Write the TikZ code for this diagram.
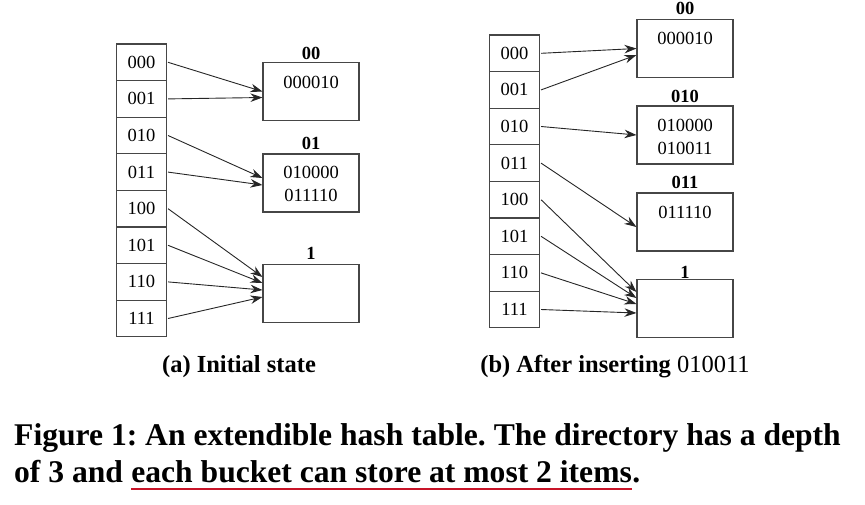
\documentclass[tikz,border=0pt]{standalone}
\usepackage{fontspec}
\setmainfont{Liberation Serif}
\usetikzlibrary{arrows.meta}
\definecolor{ulred}{RGB}{200,20,40}
\definecolor{boxgray}{RGB}{70,70,70}
\frenchspacing
\begin{document}
\begin{tikzpicture}[x=1pt,y=-1pt,
  cell/.style={draw=boxgray, line width=1.1pt, minimum width=50pt, minimum height=36.6pt, inner sep=0pt, font=\fontsize{18.5}{18.5}\selectfont},
  bucket/.style={draw=boxgray, line width=1.1pt, minimum width=96pt, minimum height=58pt, inner sep=0pt},
  blabel/.style={font=\bfseries\fontsize{18.5}{18.5}\selectfont, inner sep=0pt},
  item/.style={font=\fontsize{18.5}{18.5}\selectfont, inner sep=0pt},
  arr/.style={-{Stealth[length=12pt,width=8.5pt]}, line width=0.9pt, draw=black!85},
  subcap/.style={font=\bfseries\fontsize{24.5}{24.5}\selectfont, inner sep=0pt, anchor=base},
  figcap/.style={font=\bfseries\fontsize{31.6}{31.6}\selectfont, inner sep=0pt, anchor=base west}]
\useasboundingbox (0,0) rectangle (865,504);

% ---- (a) initial state ----
\foreach \b [count=\i from 0] in {000,001,010,011,100,101,110,111}
  \node[cell] (a\i) at (141.5, 62.3+36.6*\i) {\b};

\node[bucket] (A00) at (311, 91.5) {};
\node[bucket] (A01) at (311, 183) {};
\node[bucket] (A1)  at (311, 293.5) {};
\node[blabel] (lA00) at (311, 53) {00};
\node[blabel] (lA01) at (311, 143) {01};
\node[blabel] (lA1)  at (311, 253) {1};
\node[item] (iA1) at (311, 82) {000010};
\node[item] (iA2) at (311, 172) {010000};
\node[item] (iA3) at (311, 195) {011110};

\draw[arr] ([xshift=1pt]a0.east) -- ([yshift=0pt]A00.west);
\draw[arr] ([xshift=1pt]a1.east) -- ([yshift=-6pt]A00.west);
\draw[arr] ([xshift=1pt]a2.east) -- ([yshift=5pt]A01.west);
\draw[arr] ([xshift=1pt]a3.east) -- ([yshift=-2pt]A01.west);
\draw[arr] ([xshift=1pt]a4.east) -- ([yshift=16.5pt]A1.west);
\draw[arr] ([xshift=1pt]a5.east) -- ([yshift=10.5pt]A1.west);
\draw[arr] ([xshift=1pt]a6.east) -- ([yshift=3.5pt]A1.west);
\draw[arr] ([xshift=1pt]a7.east) -- ([yshift=-3.5pt]A1.west);

% ---- (b) after inserting ----
\foreach \b [count=\i from 0] in {000,001,010,011,100,101,110,111}
  \node[cell] (b\i) at (514.5, 53.3+36.6*\i) {\b};

\node[bucket] (B00)  at (685, 48.5) {};
\node[bucket] (B010) at (685, 135) {};
\node[bucket] (B011) at (685, 222) {};
\node[bucket] (B1)   at (685, 308.5) {};
\node[blabel] (lB00)  at (685, 8) {00};
\node[blabel] (lB010) at (685, 96) {010};
\node[blabel] (lB011) at (685, 182) {011};
\node[blabel] (lB1)   at (685, 272) {1};
\node[item] (iB1) at (685, 38) {000010};
\node[item] (iB2) at (685, 125) {010000};
\node[item] (iB3) at (685, 148) {010011};
\node[item] (iB4) at (685, 212) {011110};

\draw[arr] ([xshift=1pt]b0.east) -- ([yshift=0pt]B00.west);
\draw[arr] ([xshift=1pt]b1.east) -- ([yshift=-6.5pt]B00.west);
\draw[arr] ([xshift=1pt]b2.east) -- ([yshift=0pt]B010.west);
\draw[arr] ([xshift=1pt]b3.east) -- ([yshift=-5pt]B011.west);
\draw[arr] ([xshift=1pt]b4.east) -- ([yshift=16.5pt]B1.west);
\draw[arr] ([xshift=1pt]b5.east) -- ([yshift=10.5pt]B1.west);
\draw[arr] ([xshift=1pt]b6.east) -- ([yshift=4.5pt]B1.west);
\draw[arr] ([xshift=1pt]b7.east) -- ([yshift=-4.5pt]B1.west);

% ---- captions ----
\node[subcap] (capa) at (239, 372) {(a) Initial state};
\node[subcap] (capb) at (615, 372) {(b) After inserting {\mdseries 010011}};

\node[figcap] (c1) at (14, 445) {Figure 1: An extendible hash table. The directory has a depth};
\node[figcap] (c2a) at (14, 482) {of 3 and};
\node[figcap] (c2b) at ([xshift=7.9pt]c2a.base east) {each bucket can store at most 2 items};
\node[figcap] (c2c) at (c2b.base east) {.};
\draw[ulred, line width=1.6pt] ([yshift=-7pt]c2b.base west) -- ([yshift=-7pt]c2b.base east);
\end{tikzpicture}
\end{document}
